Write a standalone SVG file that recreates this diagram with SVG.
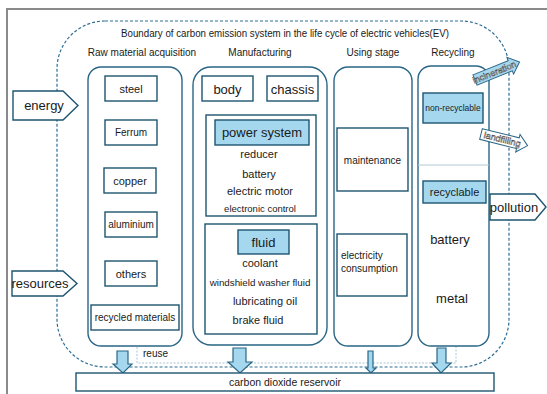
<svg xmlns="http://www.w3.org/2000/svg" width="547" height="394" viewBox="0 0 547 394">
  <defs>
    <style>
      text { font-family: "Liberation Sans", Arial, sans-serif; fill: #1a1a1a; }
      .stage { fill: #ffffff; stroke: #2a6686; stroke-width: 1.4; }
      .box { fill: #ffffff; stroke: #1e5470; stroke-width: 1.4; }
      .hdr { fill: #a5d8ee; stroke: #1e5470; stroke-width: 1.4; }
      .lbl { font-size: 10px; text-anchor: middle; }
      .item { font-size: 11px; text-anchor: middle; }
      .big { font-size: 13px; text-anchor: middle; }
      .io { fill: #ffffff; stroke: #1e5470; stroke-width: 1.4; }
      .down { fill: #a5d8ee; stroke: #2a6686; stroke-width: 1.2; }
      .outline-text { font-size: 9px; fill: #ffffff; stroke: #3a3a3a; stroke-width: 0.45; text-anchor: middle; }
    </style>
  </defs>

  <!-- page frame -->
  <path d="M7,394 V9 H547" fill="none" stroke="#8a8a8a" stroke-width="2"/>

  <!-- system boundary -->
  <g id="boundary">
    <rect x="57" y="21" width="452" height="346" rx="48" fill="none" stroke="#2e6e96" stroke-width="1.2" stroke-dasharray="3,2"/>
    <text x="285" y="37" style="font-size:10px;text-anchor:middle" textLength="328" lengthAdjust="spacingAndGlyphs">Boundary of carbon emission system in the life cycle of electric vehicles(EV)</text>
  </g>

  <!-- stage titles -->
  <g id="stage-titles">
    <text class="lbl" x="142" y="56">Raw material acquisition</text>
    <text class="lbl" x="260" y="56">Manufacturing</text>
    <text class="lbl" x="373" y="56">Using stage</text>
    <text class="lbl" x="453" y="56">Recycling</text>
  </g>

  <!-- connectors -->
  <g id="connectors">
    <!-- reuse loop -->
    <path d="M456,346 V363 H137 V334" fill="none" stroke="#a9c4d4" stroke-width="1" stroke-dasharray="2,1.5"/>
    <path d="M134,336 L137,331 L140,336" fill="none" stroke="#a9c4d4" stroke-width="1"/>
    <text x="143" y="357" style="font-size:10px">reuse</text>
    <!-- emissions to reservoir -->
    <polygon class="down" points="117,351 128,351 128,364 132,364 123,373 113,364 117,364"/>
    <polygon class="down" points="233,348 246,348 246,362 252,362 240,373 228,362 233,362"/>
    <polygon class="down" points="368,351 373,351 373,368 376,368 371,373 366,368 368,368"/>
    <polygon class="down" points="437,348 446,348 446,363 451,363 441,373 432,363 437,363"/>
  </g>

  <!-- inputs -->
  <g id="energy">
    <polygon class="io" points="13,91 63,91 78,105.5 63,120 13,120"/>
    <text class="big" x="44" y="110">energy</text>
  </g>
  <g id="resources">
    <polygon class="io" points="12,271 63,271 77,283.5 63,296 12,296"/>
    <text class="big" x="40" y="288">resources</text>
  </g>

  <!-- raw material acquisition -->
  <g id="raw-material">
    <rect class="stage" x="88" y="67" width="94" height="279" rx="13"/>
    <rect class="box" x="105" y="76" width="52" height="25"/>
    <text class="item" x="131" y="92.5">steel</text>
    <rect class="box" x="105" y="120" width="52" height="25"/>
    <text class="lbl" x="131" y="136">Ferrum</text>
    <rect class="box" x="104" y="168" width="52" height="25"/>
    <text class="item" x="130" y="184.5">copper</text>
    <rect class="box" x="105" y="212" width="52" height="25"/>
    <text class="lbl" x="131" y="228">aluminium</text>
    <rect class="box" x="105" y="261" width="52" height="25"/>
    <text class="item" x="131" y="277.5">others</text>
    <rect class="box" x="91" y="305" width="88" height="25"/>
    <text class="lbl" x="135" y="321">recycled materials</text>
  </g>

  <!-- manufacturing -->
  <g id="manufacturing">
    <rect class="stage" x="193" y="67" width="134" height="278" rx="18"/>
    <rect class="box" x="202" y="76" width="51" height="25"/>
    <text class="big" x="227.5" y="93.5">body</text>
    <rect class="box" x="267" y="76" width="51" height="25"/>
    <text class="big" x="292.5" y="93.5">chassis</text>
    <rect class="box" x="206" y="115" width="110" height="101"/>
    <rect class="hdr" x="215" y="120" width="94" height="25"/>
    <text class="big" x="262" y="137">power system</text>
    <text class="item" x="259" y="158">reducer</text>
    <text class="item" x="259" y="178">battery</text>
    <text class="item" x="260" y="195">electric motor</text>
    <text x="260" y="212" style="font-size:9.5px;text-anchor:middle">electronic control</text>
    <rect class="box" x="205" y="224" width="112" height="110"/>
    <rect class="hdr" x="238" y="230" width="51" height="24"/>
    <text class="big" x="263.5" y="246.5">fluid</text>
    <text class="item" x="260" y="267">coolant</text>
    <text x="260" y="286" style="font-size:9.8px;text-anchor:middle">windshield washer fluid</text>
    <text class="item" x="265" y="305">lubricating oil</text>
    <text class="item" x="258" y="324">brake fluid</text>
  </g>

  <!-- using stage -->
  <g id="using-stage">
    <rect class="stage" x="334" y="67" width="78" height="279" rx="14"/>
    <rect class="box" x="337" y="128" width="71" height="63"/>
    <text class="lbl" x="372.5" y="163.5">maintenance</text>
    <rect class="box" x="337" y="234" width="70" height="62"/>
    <text x="341" y="258.5" style="font-size:10px">electricity</text>
    <text x="341" y="272" style="font-size:10px">consumption</text>
  </g>

  <!-- recycling -->
  <g id="recycling">
    <rect class="stage" x="418" y="66" width="71" height="280" rx="13"/>
    <line x1="418" y1="165" x2="489" y2="165" stroke="#b3c9d6" stroke-width="1"/>
    <rect class="hdr" x="423" y="93" width="60" height="30"/>
    <text x="453" y="111" style="font-size:8.5px;text-anchor:middle">non-recyclable</text>
    <rect class="hdr" x="423" y="181" width="63" height="22"/>
    <text class="item" x="454.5" y="196">recyclable</text>
    <text class="big" x="450" y="244">battery</text>
    <text class="big" x="452" y="303">metal</text>
  </g>

  <!-- outputs -->
  <g id="incineration" transform="translate(475,80) rotate(-22)">
    <polygon points="0,-5.5 38,-5.5 38,-9 48,0 38,9 38,5.5 0,5.5" fill="#a5d8ee" stroke="#2a6686" stroke-width="1"/>
    <text class="outline-text" x="21" y="3.2">incineration</text>
  </g>
  <g id="landfilling" transform="translate(481,134) rotate(14)">
    <polygon points="0,-5.5 38,-5.5 38,-9 48,0 38,9 38,5.5 0,5.5" fill="#ffffff" stroke="#2a6686" stroke-width="1"/>
    <text class="outline-text" x="22" y="3.2">landfilling</text>
  </g>
  <g id="pollution">
    <polygon class="io" points="490,194 535,194 546,207 535,220 490,220"/>
    <text class="big" x="514" y="212">pollution</text>
  </g>

  <!-- reservoir -->
  <g id="reservoir">
    <rect class="box" x="76" y="373" width="418" height="18"/>
    <text x="285" y="386" style="font-size:10.5px;text-anchor:middle">carbon dioxide reservoir</text>
  </g>
</svg>
